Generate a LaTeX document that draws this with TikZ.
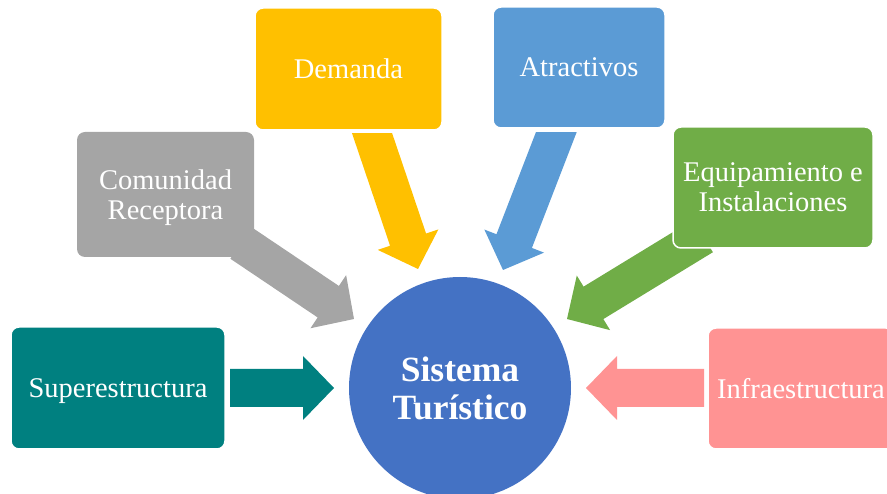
\documentclass[tikz,border=0pt]{standalone}
\usepackage{fontspec}
\setmainfont{Liberation Serif}
\usetikzlibrary{calc}
\definecolor{cteal}{HTML}{008080}
\definecolor{cgray}{HTML}{A5A5A5}
\definecolor{cyellow}{HTML}{FFC000}
\definecolor{cblue}{HTML}{5B9BD5}
\definecolor{cgreen}{HTML}{70AD47}
\definecolor{cpink}{HTML}{FF9393}
\definecolor{ccircle}{HTML}{4472C4}
\tikzset{
  box/.style={rectangle, rounded corners=8pt, draw=white, line width=1.5pt,
    text=white, font=\fontsize{28.5}{30}\selectfont, align=center, inner sep=0pt,
    text depth=0pt},
  hub/.style={circle, fill=ccircle, text=white, inner sep=0pt, minimum size=222pt,
    font=\fontsize{35.5}{38}\bfseries\selectfont, align=center, text depth=0pt},
}
% block arrow from #1 (start) to #2 (tip), colour #3
\newcommand{\blockarrow}[3]{%
  \coordinate (ahb) at ($(#2)!31pt!(#1)$);
  \fill[#3] ($(#1)!19pt!90:(#2)$) -- ($(ahb)!19pt!90:(#2)$) -- ($(ahb)!32pt!90:(#2)$)
    -- (#2) -- ($(ahb)!32pt!-90:(#2)$) -- ($(ahb)!19pt!-90:(#2)$)
    -- ($(#1)!19pt!-90:(#2)$) -- cycle;
}
\begin{document}
\begin{tikzpicture}[x=1pt,y=-1pt]
\useasboundingbox (0,0) rectangle (887,494);
\clip (0,0) rectangle (887,494);

% hub position
\coordinate (hubc) at (460,388);

% arrow start and tip points
\coordinate (demS) at (367.6,120);
\coordinate (demT) at (418,269);
\coordinate (atrS) at (561,120);
\coordinate (atrT) at (503,270);
\coordinate (comS) at (241,243);
\coordinate (comT) at (354,319);
\coordinate (equS) at (703,236);
\coordinate (equT) at (567,319);
\coordinate (supS) at (230,388);
\coordinate (supT) at (334,388);
\coordinate (infS) at (704,388);
\coordinate (infT) at (586,388);

% top arrows, clipped below the boxes
\begin{scope}
  \clip (0,134) rectangle (887,494);
  \blockarrow{demS}{demT}{cyellow}
\end{scope}
\begin{scope}
  \clip (0,133) rectangle (887,494);
  \blockarrow{atrS}{atrT}{cblue}
\end{scope}

% boxes
\node[box, fill=cteal, minimum width=214pt, minimum height=122pt] (sup) at (118,388) {Superestructura};
\node[box, fill=cyellow, minimum width=187pt, minimum height=122pt] (dem) at (348.5,69) {Demanda};
\node[box, fill=cblue, minimum width=172pt, minimum height=121pt] (atr) at (579,67.5) {Atractivos};
\node[box, fill=cpink, minimum width=186pt, minimum height=121pt] (inf) at (801,388.5) {Infraestructura};
\node[box, fill=cgray, draw=none, minimum width=177pt, minimum height=125pt] (com) at (165.5,194.5) {Comunidad\\Receptora};

% gray arrow over its box
\blockarrow{comS}{comT}{cgray}

% green arrow under its box
\blockarrow{equS}{equT}{cgreen}
\node[box, fill=cgreen, minimum width=200pt, minimum height=121pt] (equ) at (773,187.5) {Equipamiento e\\Instalaciones};

% horizontal arrows
\blockarrow{supS}{supT}{cteal}
\blockarrow{infS}{infT}{cpink}

% hub
\node[hub] (hub) at (hubc) {Sistema\\Turístico};
\end{tikzpicture}
\end{document}
